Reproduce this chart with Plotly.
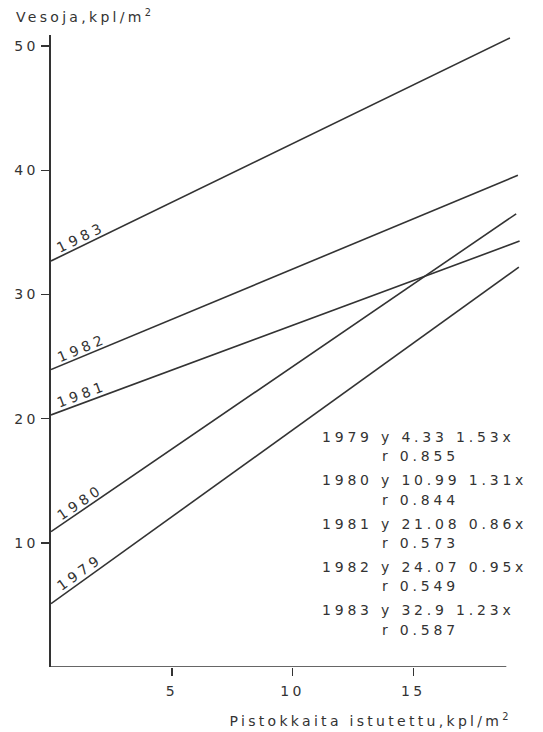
import math
import plotly.graph_objects as go

# ---------------- data ----------------
years = [1979, 1980, 1981, 1982, 1983]
line_x0 = [0, 0, 0, 0, 0]
line_y0 = [5.1, 10.9, 20.3, 23.95, 32.7]
line_x1 = [19.37, 19.26, 19.4, 19.33, 19.0]
line_y1 = [32.2, 36.5, 34.3, 39.6, 50.66]
intercepts = ["4.33", "10.99", "21.08", "24.07", "32.9"]
slopes = ["1.53", "1.31", "0.86", "0.95", "1.23"]
r_values = ["0.855", "0.844", "0.573", "0.549", "0.587"]
x_ticks = [5, 10, 15]
y_ticks = [10, 20, 30, 40, 50]

# ---------------- layout constants ----------------
W, H = 543, 732
ML, MR, MT, MB = 51, 21, 35, 65
XR = [0, 19.5]
YR = [0, 50.9]
PW, PH = W - ML - MR, H - MT - MB
px_x = PW / (XR[1] - XR[0])
px_y = PH / (YR[1] - YR[0])
INK = "#333333"
FONT = "DejaVu Sans"
FS = 14

fig = go.Figure()

for yr, x0, y0, x1, y1 in zip(years, line_x0, line_y0, line_x1, line_y1):
    fig.add_trace(go.Scatter(x=[x0, x1], y=[y0, y1], mode="lines",
                             line=dict(color=INK, width=1.6),
                             name=str(yr), showlegend=False, hoverinfo="skip"))

annotations = []
# year labels along lines (annotation indices 0-4)
lab_x = 1.4
for yr, x0, y0, x1, y1 in zip(years, line_x0, line_y0, line_x1, line_y1):
    slope = (y1 - y0) / (x1 - x0)
    ang = math.atan2(slope * px_y, px_x)
    yy = y0 + slope * (lab_x - x0)
    d = 8.5
    annotations.append(dict(x=lab_x, y=yy, xref="x", yref="y", text=str(yr),
                            showarrow=False, textangle=-math.degrees(ang),
                            xanchor="center", yanchor="middle",
                            xshift=-d * math.sin(ang), yshift=d * math.cos(ang),
                            font=dict(family=FONT, size=FS, color=INK)))

# equation block (annotation indices 5-14)
eq_x, r_x = 11.15, 13.62
eq_top, row_gap, r_gap = 18.53, 3.49, 1.57
for i, (yr, a, b, r) in enumerate(zip(years, intercepts, slopes, r_values)):
    yrow = eq_top - i * row_gap
    annotations.append(dict(x=eq_x, y=yrow, xref="x", yref="y",
                            text=f"{yr} y {a} {b}x", showarrow=False,
                            xanchor="left", yanchor="middle", align="left",
                            font=dict(family=FONT, size=FS, color=INK)))
    annotations.append(dict(x=r_x, y=yrow - r_gap, xref="x", yref="y",
                            text=f"r {r}", showarrow=False,
                            xanchor="left", yanchor="middle", align="left",
                            font=dict(family=FONT, size=FS, color=INK)))

# axis titles (paper coords relative to plot area)
annotations.append(dict(x=(14 - ML) / PW, y=1 + (MT - 16) / PH,
                        xref="paper", yref="paper",
                        xanchor="left", yanchor="middle", align="left",
                        showarrow=False, text="Vesoja,kpl/m<sup>2</sup>",
                        font=dict(family=FONT, size=FS, color=INK)))
annotations.append(dict(x=(514 - ML) / PW, y=-(720 - (H - MB)) / PH,
                        xref="paper", yref="paper",
                        xanchor="right", yanchor="middle", align="right",
                        showarrow=False,
                        text="Pistokkaita istutettu,kpl/m<sup>2</sup>",
                        font=dict(family=FONT, size=FS, color=INK)))

fig.update_layout(
    width=W, height=H,
    margin=dict(l=ML, r=MR, t=MT, b=MB, pad=0),
    paper_bgcolor="white", plot_bgcolor="white",
    showlegend=False,
    annotations=annotations,
    shapes=[dict(type="line", xref="x", yref="y", x0=0, y0=0, x1=18.85, y1=0,
                 line=dict(color=INK, width=1.6))],
    xaxis=dict(range=XR, tickvals=x_ticks, ticktext=[str(v) for v in x_ticks],
               ticks="outside", ticklen=8, tickwidth=1.5, tickcolor=INK,
               ticklabelstandoff=3,
               showline=False, showgrid=False, zeroline=False,
               tickfont=dict(family=FONT, size=FS, color=INK)),
    yaxis=dict(range=YR, tickvals=y_ticks, ticktext=[str(v) for v in y_ticks],
               ticks="outside", ticklen=8, tickwidth=1.5, tickcolor=INK,
               showline=True, linecolor=INK, linewidth=1.6,
               showgrid=False, zeroline=False,
               tickfont=dict(family=FONT, size=FS, color=INK)),
)

# page without body margin; the scanned original uses widely tracked lettering
post = (
    "document.body.style.margin='0';"
    "var s=document.createElement('style');"
    "s.textContent='.main-svg text{letter-spacing:3.3px;}'"
    "+'.annotation[data-index=\"0\"] text,.annotation[data-index=\"1\"] text,'"
    "+'.annotation[data-index=\"2\"] text,.annotation[data-index=\"3\"] text,'"
    "+'.annotation[data-index=\"4\"] text{letter-spacing:4px;}'"
    "+'.annotation[data-index=\"5\"] text,.annotation[data-index=\"6\"] text,'"
    "+'.annotation[data-index=\"7\"] text,.annotation[data-index=\"8\"] text,'"
    "+'.annotation[data-index=\"9\"] text,.annotation[data-index=\"10\"] text,'"
    "+'.annotation[data-index=\"11\"] text,.annotation[data-index=\"12\"] text,'"
    "+'.annotation[data-index=\"13\"] text,.annotation[data-index=\"14\"] text'"
    "+'{letter-spacing:3.8px;}';"
    "document.head.appendChild(s);"
)

fig.write_html("out.html", post_script=post,
               config={"displayModeBar": False, "staticPlot": True})
